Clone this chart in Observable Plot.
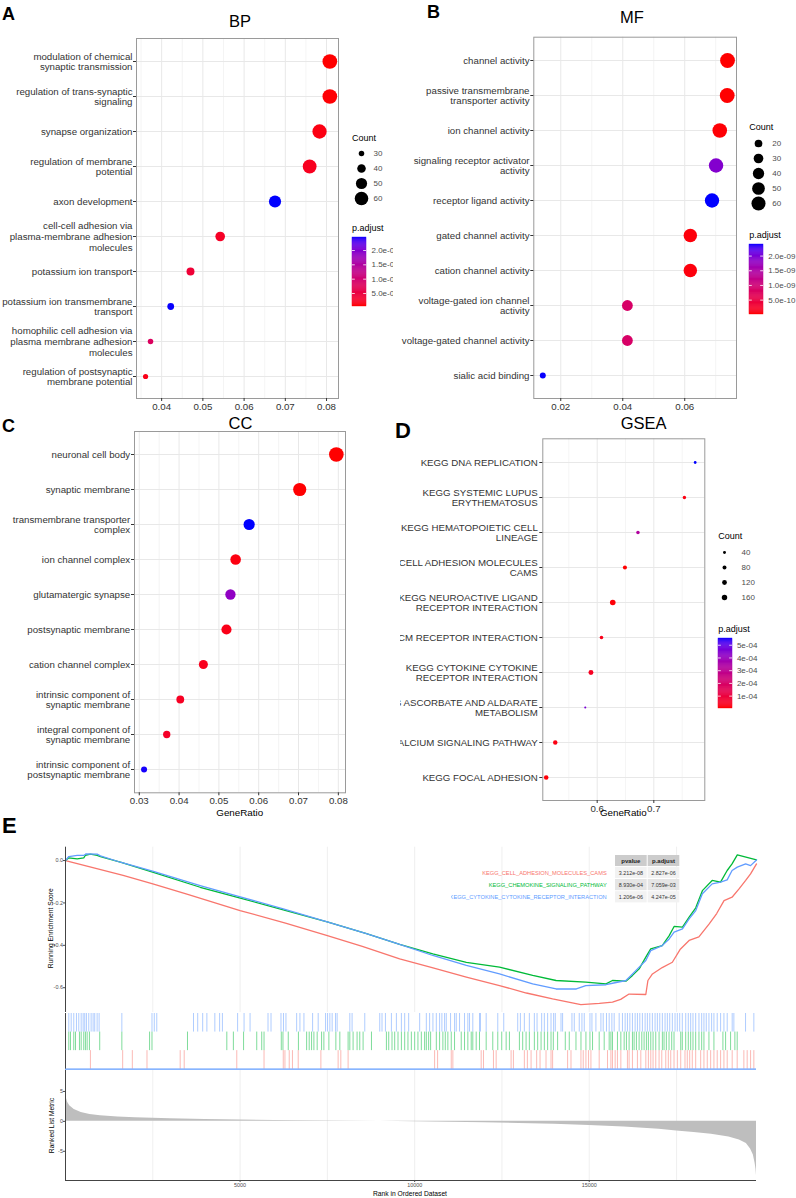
<!DOCTYPE html>
<html><head><meta charset="utf-8">
<script src="https://cdn.jsdelivr.net/npm/d3@7"></script>
<script src="https://cdn.jsdelivr.net/npm/@observablehq/plot@0.6"></script>
<style>
html,body{margin:0;padding:0;background:#fff;}
#page{position:relative;width:796px;height:1198px;overflow:hidden;background:#fff;font-family:"Liberation Sans",Arial,Helvetica,sans-serif;}
.panel{position:absolute;overflow:hidden;}
</style></head><body><div id="page"></div>
<script>
// ---------------- DATA ----------------
const bpTerms = ["modulation of chemical\nsynaptic transmission","regulation of trans-synaptic\nsignaling","synapse organization","regulation of membrane\npotential","axon development","cell-cell adhesion via\nplasma-membrane adhesion\nmolecules","potassium ion transport","potassium ion transmembrane\ntransport","homophilic cell adhesion via\nplasma membrane adhesion\nmolecules","regulation of postsynaptic\nmembrane potential"];
const bpRatio = [0.0808,0.0808,0.0783,0.0759,0.0675,0.0542,0.0470,0.0422,0.0373,0.0361];
const bpCount = [65,65,63,61,54,44,38,34,30,29];
const bpPadj = [4.5e-8,6e-8,1.2e-7,2e-7,2.455e-6,2.5e-7,4e-7,2.45e-6,8e-7,1.5e-7];
const bpTicks = [0.04,0.05,0.06,0.07,0.08];
const bpCountLegend = [30,40,50,60];
const bpColorTicks = [5e-7,1e-6,1.5e-6,2e-6];

const mfTerms = ["channel activity","passive transmembrane\ntransporter activity","ion channel activity","signaling receptor activator\nactivity","receptor ligand activity","gated channel activity","cation channel activity","voltage-gated ion channel\nactivity","voltage-gated channel activity","sialic acid binding"];
const mfRatio = [0.0738,0.0737,0.0713,0.0701,0.0688,0.0618,0.0618,0.0415,0.0415,0.0142];
const mfCount = [66,66,64,63,62,55,55,37,37,13];
const mfPadj = [1e-11,1.5e-11,3e-11,1.92e-9,2.395e-9,5e-11,6e-11,8.4e-10,8.4e-10,2.39e-9];
const mfTicks = [0.02,0.04,0.06];
const mfCountLegend = [20,30,40,50,60];
const mfColorTicks = [5e-10,1e-9,1.5e-9,2e-9];

const ccTerms = ["neuronal cell body","synaptic membrane","transmembrane transporter\ncomplex","ion channel complex","glutamatergic synapse","postsynaptic membrane","cation channel complex","intrinsic component of\nsynaptic membrane","integral component of\nsynaptic membrane","intrinsic component of\npostsynaptic membrane"];
const ccRatio = [0.0795,0.0703,0.0576,0.0542,0.0529,0.0519,0.0461,0.0403,0.0369,0.0312];
const ccCount = [66,58,48,45,44,43,38,33,31,26];
const ccPadj = [2e-7,3e-7,3.0e-5,1e-6,2.26e-5,1.5e-6,2e-6,2.5e-6,3e-6,2.98e-5];
const ccTicks = [0.03,0.04,0.05,0.06,0.07,0.08];

const gsTerms = ["KEGG DNA REPLICATION","KEGG SYSTEMIC LUPUS\nERYTHEMATOSUS","KEGG HEMATOPOIETIC CELL\nLINEAGE","KEGG CELL ADHESION MOLECULES\nCAMS","KEGG NEUROACTIVE LIGAND\nRECEPTOR INTERACTION","KEGG ECM RECEPTOR INTERACTION","KEGG CYTOKINE CYTOKINE\nRECEPTOR INTERACTION","KEGG ASCORBATE AND ALDARATE\nMETABOLISM","KEGG CALCIUM SIGNALING PATHWAY","KEGG FOCAL ADHESION"];
const gsRatio = [0.773,0.754,0.672,0.649,0.6275,0.6076,0.589,0.579,0.526,0.510];
const gsCount = [35,55,60,85,170,65,130,18,105,110];
const gsPadj = [5.53e-4,2e-5,3.3e-4,2.827e-6,1e-5,3e-5,4.247e-5,4.6e-4,2e-5,1e-5];
const gsTicks = [0.6,0.7];
const gsCountLegend = [40,80,120,160];
const gsColorTicks = [1e-4,2e-4,3e-4,4e-4,5e-4];

// GSEA running enrichment score (rank, ES)
const esCams = [[0,0],[700,-0.03],[1650,-0.07],[2500,-0.11],[3500,-0.16],[5000,-0.236],[6300,-0.295],[7500,-0.354],[8500,-0.405],[9570,-0.464],[10500,-0.505],[11480,-0.55],[12430,-0.59],[13200,-0.625],[13950,-0.653],[14760,-0.68],[15290,-0.674],[15665,-0.668],[15900,-0.655],[16140,-0.63],[16620,-0.632],[16680,-0.566],[16810,-0.535],[17090,-0.505],[17380,-0.48],[17600,-0.42],[17860,-0.377],[18140,-0.36],[18430,-0.3],[18650,-0.25],[18860,-0.189],[19090,-0.173],[19290,-0.134],[19480,-0.094],[19620,-0.063],[19790,-0.016]];
const esChemokine = [[0,0],[94,0.013],[334,0.008],[523,0.013],[571,0.025],[714,0.03],[906,0.024],[1000,0.019],[1571,-0.008],[2494,-0.055],[3857,-0.126],[4980,-0.176],[6237,-0.233],[7520,-0.29],[8620,-0.345],[9570,-0.396],[10520,-0.44],[11480,-0.48],[12430,-0.503],[13380,-0.542],[14050,-0.566],[14900,-0.574],[15480,-0.582],[15665,-0.566],[16050,-0.569],[16240,-0.542],[16430,-0.511],[16620,-0.456],[16760,-0.417],[17090,-0.401],[17290,-0.354],[17430,-0.311],[17670,-0.314],[17860,-0.267],[18050,-0.223],[18240,-0.142],[18520,-0.094],[18760,-0.102],[18950,-0.047],[19090,-0.016],[19240,0.027],[19790,0.003]];
const esCytokine = [[0,0],[94,0.019],[334,0.024],[523,0.024],[580,0.031],[906,0.03],[1000,0.022],[1571,-0.008],[2494,-0.05],[3857,-0.118],[4980,-0.17],[6237,-0.228],[7520,-0.29],[8620,-0.345],[9570,-0.396],[10520,-0.448],[11480,-0.495],[12430,-0.535],[13380,-0.582],[14050,-0.606],[14630,-0.606],[14900,-0.59],[15480,-0.586],[15665,-0.579],[16050,-0.566],[16240,-0.535],[16430,-0.503],[16620,-0.472],[16760,-0.425],[17090,-0.401],[17290,-0.37],[17430,-0.338],[17670,-0.322],[17860,-0.275],[18050,-0.236],[18240,-0.157],[18520,-0.11],[18760,-0.102],[18950,-0.091],[19090,-0.047],[19240,-0.031],[19480,-0.016],[19620,-0.024],[19790,0.003]];

// gene hit positions (rank)
const hitsCams = [714,1637,1914,2334,3285,3400,4905,5686,6237,6285,6408,6500,6665,7314,7808,7885,8094,10571,10657,11048,11094,11905,11971,12257,12334,12762,12828,13142,13228,13334,13494,13591,13762,13905,13951,14380,14477,14762,14828,14905,14980,15048,15285,15523,15620,15665,15742,15808,15905,16094,16142,16237,16380,16477,16620,16694,16762,16828,16905,17000,17077,17191,17265,17334,17428,17523,17620,17742,17808,17877,17951,18048,18191,18285,18380,18477,18571,18665,18762,18857,18951,19094,19237,19428,19523,19620,19714];
const hitsChemokine = [94,143,237,286,400,449,523,571,620,686,980,1614,2408,2477,3494,4620,4808,5100,5477,5620,5686,6180,6228,6380,6671,6906,6980,7048,7114,7208,7334,7400,7543,7743,7857,8094,8143,8237,8351,8428,8523,8763,9191,9257,9351,9428,9523,9620,9714,9808,9905,10000,10094,10191,10285,10334,10400,10457,10620,10714,10808,10877,10951,11048,11142,11334,11428,11523,11620,11665,11762,11857,12048,12237,12380,12494,12620,12714,13000,13094,13191,13285,13428,13523,13620,13714,13808,13905,13971,14094,14314,14428,14620,14763,14905,15020,15094,15285,15428,15571,15620,15665,15808,15905,16000,16065,16142,16237,16285,16351,16428,16505,16571,16637,16694,16762,16828,16905,17000,17094,17142,17208,17285,17362,17428,17620,17665,17762,17837,17905,17971,18048,18142,18220,18285,18428,18571,18828,18905,19048,19171,19237];
const hitsCytokine = [94,163,237,314,380,449,506,551,600,666,734,791,837,906,963,1614,2477,2543,2614,3666,3786,3929,4049,4277,4414,4494,4929,5114,5286,5800,5886,6171,6243,6314,6620,6714,6829,7077,7237,7448,7505,7571,7637,7734,7780,8143,8208,8571,9000,9065,9163,9334,9477,9620,9714,9828,10143,10334,10428,10523,10620,10714,10780,10857,10905,11028,11143,11191,11285,11428,11523,11571,11665,11857,11885,12048,12380,12551,12951,13028,13142,13285,13428,13505,13637,13714,13808,13905,13980,14028,14191,14237,14505,14571,14714,14791,14857,15020,15077,15191,15334,15400,15494,15571,15648,15714,15857,15951,16028,16094,16163,16237,16314,16380,16448,16522,16600,16665,16734,16808,16885,16951,17020,17094,17171,17237,17305,17380,17457,17522,17591,17665,17763,17837,17905,17971,18048,18142,18220,18285,18351,18428,18505,18571,18665,18762,18857,18951,19094,19142,19476,19714];

// ranked list metric
const metricRank = [0,5,20,60,120,250,450,700,1000,1500,2000,3000,4000,5000,6000,7000,8000,9000,10000,11000,12000,13000,14000,15000,16000,17000,17500,18000,18500,19000,19300,19500,19620,19700,19750,19775,19790];
const metricValue = [7.6,5.0,4.0,3.2,2.6,2.0,1.5,1.15,0.95,0.75,0.62,0.45,0.33,0.24,0.16,0.1,0.05,0.0,-0.06,-0.13,-0.22,-0.35,-0.5,-0.7,-0.95,-1.3,-1.6,-1.85,-2.15,-2.6,-3.1,-3.7,-4.6,-5.6,-7.0,-8.0,-9.05];

const esTicks = [0,-0.2,-0.4,-0.6];
const metricTicks = [5,0,-5];
const rankTicks = [5000,10000,15000];
const rankGrid = [2500,5000,7500,10000,12500,15000,17500];

const tableSets = ["KEGG_CELL_ADHESION_MOLECULES_CAMS","KEGG_CHEMOKINE_SIGNALING_PATHWAY","KEGG_CYTOKINE_CYTOKINE_RECEPTOR_INTERACTION"];
const tableColors = ["#F8766D","#00BA38","#619CFF"];
const tablePvalue = ["3.212e-08","8.930e-04","1.206e-06"];
const tablePadjust = ["2.827e-06","7.059e-03","4.247e-05"];

// ---------------- HELPERS ----------------
const FONT = "'Liberation Sans', Arial, Helvetica, sans-serif";
const AXC = "#333333";
const page = document.getElementById("page");
const baseStyle = {background:"transparent", fontFamily:FONT, overflow:"visible"};
const colorOpts = dom => ({type:"linear", domain:dom, range:["red","blue"], interpolate:"lab"});
const fmtSci = digits => v => v.toExponential(digits).replace(/e([+-])(\d)$/, (m,s,d) => "e"+s+"0"+d);

function place(parent, node, left, top){
  node.style.position = "absolute"; node.style.left = left+"px"; node.style.top = top+"px";
  parent.appendChild(node); return node;
}
function panelDiv(left, top, w, h){
  const d = document.createElement("div"); d.className = "panel";
  Object.assign(d.style, {left:left+"px", top:top+"px", width:w+"px", height:h+"px"});
  page.appendChild(d); return d;
}

function dotPanel(o){
  const data = o.terms.map((t,i) => ({term:t, ratio:o.ratio[i], count:o.count[i], padj:o.padj[i]}));
  const step = o.xTicks[1]-o.xTicks[0];
  const minor = [o.xTicks[0]-step/2, ...o.xTicks.map(t => t+step/2)].filter(v => v>o.xDomain[0] && v<o.xDomain[1]);
  return Plot.plot({
    width:o.width, height:o.height, marginLeft:o.mL, marginTop:o.mT, marginRight:o.mR, marginBottom:o.mB,
    style:baseStyle,
    x:{domain:o.xDomain},
    y:{type:"point", domain:o.terms, padding:0.6},
    r:{type:"sqrt", domain:o.rDomain, range:o.rRange},
    color:colorOpts(d3.extent(o.padj)),
    marks:[
      Plot.gridX(minor, {stroke:"#efefef", strokeOpacity:1, strokeWidth:0.7}),
      Plot.gridX(o.xTicks, {stroke:"#e8e8e8", strokeOpacity:1, strokeWidth:1}),
      Plot.gridY(o.terms, {stroke:"#e8e8e8", strokeOpacity:1, strokeWidth:1}),
      Plot.dot(data, {x:"ratio", y:"term", r:"count", fill:"padj"}),
      Plot.frame({stroke:"#9a9a9a", strokeWidth:1}),
      Plot.axisY({tickSize:3, tickPadding:o.yPad, fontSize:9.7, lineHeight:1.1, color:AXC, label:null}),
      Plot.axisX(o.xTicks, {tickSize:3, tickPadding:o.xPad, fontSize:9.7, color:AXC, label:null})
    ]
  });
}

function sizeLegend(o){
  return Plot.plot({
    width:60, height:o.values.length*o.stepH, marginLeft:0, marginRight:40, marginTop:0, marginBottom:0,
    style:baseStyle,
    x:{domain:[0,1], axis:null},
    y:{type:"point", domain:o.values, padding:0.5},
    r:{type:"sqrt", domain:o.rDomain, range:o.rRange},
    marks:[
      Plot.dot(o.values, {x:0.5, y:d => d, r:d => d, fill:"black"}),
      Plot.axisY(o.values, {anchor:"right", tickSize:0, tickPadding:o.labelPad, fontSize:8, color:"#4d4d4d", label:null})
    ]
  });
}

function colorbar(o){
  const n = 64, dom = o.domain;
  const steps = d3.range(n).map(i => ({lo:dom[0]+(dom[1]-dom[0])*i/n, hi:dom[0]+(dom[1]-dom[0])*(i+1)/n}));
  return Plot.plot({
    width:o.barW+45, height:o.barH, marginLeft:0, marginRight:45, marginTop:0, marginBottom:0,
    style:baseStyle,
    x:{domain:[0,1], axis:null},
    y:{domain:dom},
    color:colorOpts(dom),
    marks:[
      Plot.rect(steps, {x1:0, x2:1, y1:"lo", y2:"hi", fill:d => (d.lo+d.hi)/2, stroke:d => (d.lo+d.hi)/2, strokeWidth:0.4}),
      Plot.ruleY(o.ticks, {x1:0, x2:0.2, stroke:"white", strokeWidth:0.8}),
      Plot.ruleY(o.ticks, {x1:0.8, x2:1, stroke:"white", strokeWidth:0.8}),
      Plot.axisY(o.ticks, {anchor:"right", tickSize:0, tickPadding:o.labelPad, tickFormat:o.fmt, fontSize:8, color:"#4d4d4d", label:null})
    ]
  });
}

// ---------------- PANEL A (BP) ----------------
const rA = {d:[29,65], r:[2.6,7.35]};
const panA = panelDiv(0, 0, 393, 415);
place(panA, dotPanel({terms:bpTerms, ratio:bpRatio, count:bpCount, padj:bpPadj, xDomain:[0.0339,0.0829], xTicks:bpTicks,
  rDomain:rA.d, rRange:rA.r, width:393, height:415, mL:136, mT:38, mR:55, mB:17, yPad:1, xPad:2}), 0, 0);
place(panA, sizeLegend({values:bpCountLegend, rDomain:rA.d, rRange:rA.r, stepH:15, labelPad:2}), 351, 144.5);
place(panA, colorbar({domain:d3.extent(bpPadj), ticks:bpColorTicks, fmt:fmtSci(1), barW:14, barH:69, labelPad:5}), 352, 237);

// ---------------- PANEL B (MF) ----------------
const rB = {d:[13,66], r:[3,7.4]};
const panB = panelDiv(400, 0, 396, 415);
place(panB, dotPanel({terms:mfTerms, ratio:mfRatio, count:mfCount, padj:mfPadj, xDomain:[0.0113,0.0767], xTicks:mfTicks,
  rDomain:rB.d, rRange:rB.r, width:396, height:415, mL:133.3, mT:36.7, mR:60, mB:17, yPad:1.3, xPad:2}), 0, 0);
place(panB, sizeLegend({values:mfCountLegend, rDomain:rB.d, rRange:rB.r, stepH:15.6, labelPad:3.7}), 348.3, 133.5);
place(panB, colorbar({domain:d3.extent(mfPadj), ticks:mfColorTicks, fmt:fmtSci(1), barW:14, barH:70, labelPad:4.7}), 349, 243.7);

// ---------------- PANEL C (CC) ----------------
const panC = panelDiv(0, 415, 400, 403);
place(panC, dotPanel({terms:ccTerms, ratio:ccRatio, count:ccCount, padj:ccPadj, xDomain:[0.0288,0.0818], xTicks:ccTicks,
  rDomain:[26,66], rRange:[3,7.3], width:400, height:403, mL:134, mT:16, mR:55, mB:25.7, yPad:1.3, xPad:1.5}), 0, 0);

// ---------------- PANEL D (GSEA) ----------------
const rD = {d:[18,170], r:[1.05,2.8]};
const panD = panelDiv(400, 415, 396, 403);
place(panD, dotPanel({terms:gsTerms, ratio:gsRatio, count:gsCount, padj:gsPadj, xDomain:[0.504,0.790], xTicks:gsTicks,
  rDomain:rD.d, rRange:rD.r, width:396, height:403, mL:142.3, mT:23.3, mR:91.7, mB:18, yPad:2, xPad:2}), 0, 0);
place(panD, sizeLegend({values:gsCountLegend, rDomain:rD.d, rRange:rD.r, stepH:15.67, labelPad:7}), 314, 127.9);
place(panD, colorbar({domain:d3.extent(gsPadj), ticks:gsColorTicks, fmt:fmtSci(0), barW:14, barH:70, labelPad:4.4}), 318.3, 223.3);

// ---------------- PANEL E (GSEA plot) ----------------
const eX = [0, 19790];
const esY = [-0.717, 0.063];
const esPlot = Plot.plot({
  width:796, height:172, marginLeft:65, marginRight:40, marginTop:6.7, marginBottom:0,
  style:baseStyle,
  x:{domain:eX, axis:null}, y:{domain:esY},
  marks:[
    Plot.gridX(rankGrid, {stroke:"#ebebeb", strokeOpacity:1, strokeWidth:0.8}),
    Plot.line(esCams, {x:d => d[0], y:d => d[1], stroke:tableColors[0], strokeWidth:1.3}),
    Plot.line(esChemokine, {x:d => d[0], y:d => d[1], stroke:tableColors[1], strokeWidth:1.3}),
    Plot.line(esCytokine, {x:d => d[0], y:d => d[1], stroke:tableColors[2], strokeWidth:1.3}),
    Plot.ruleX([eX[0]], {stroke:"#444", strokeWidth:1}),
    Plot.axisY(esTicks, {tickSize:2, tickPadding:0.6, fontSize:5.4, tickFormat:d => d.toFixed(1), color:"#4d4d4d", label:null})
  ]
});
place(page, esPlot, 0, 840);

const rugPlot = Plot.plot({
  width:796, height:58, marginLeft:65, marginRight:40, marginTop:1, marginBottom:1.3,
  style:baseStyle,
  x:{domain:eX, axis:null}, y:{domain:[0,3], axis:null},
  marks:[
    Plot.ruleX(hitsCams, {x:d => d, y1:0, y2:1, stroke:tableColors[0], strokeOpacity:0.5, strokeWidth:1}),
    Plot.ruleX(hitsChemokine, {x:d => d, y1:1, y2:2, stroke:tableColors[1], strokeOpacity:0.5, strokeWidth:1}),
    Plot.ruleX(hitsCytokine, {x:d => d, y1:2, y2:3, stroke:tableColors[2], strokeOpacity:0.5, strokeWidth:1}),
    Plot.ruleY([0], {stroke:tableColors[2], strokeWidth:1.2}),
    Plot.ruleX([eX[0]], {stroke:"#444", strokeWidth:1})
  ]
});
place(page, rugPlot, 0, 1012);

const metric = metricRank.map((r,i) => ({rank:r, value:metricValue[i]}));
const mY = [-9.88, 8.5];
const rankPlot = Plot.plot({
  width:796, height:130, marginLeft:65, marginRight:40, marginTop:5, marginBottom:15,
  style:baseStyle,
  x:{domain:eX}, y:{domain:mY},
  marks:[
    Plot.gridX(rankGrid, {stroke:"#ebebeb", strokeOpacity:1, strokeWidth:0.8}),
    Plot.areaY(metric, {x:"rank", y:"value", fill:"#bebebe"}),
    Plot.ruleX([eX[0]], {stroke:"#444", strokeWidth:1}),
    Plot.ruleY([mY[0]], {stroke:"#444", strokeWidth:1}),
    Plot.axisY(metricTicks, {tickSize:2, tickPadding:0.6, fontSize:5.4, tickFormat:d => String(d), color:"#4d4d4d", label:null}),
    Plot.axisX(rankTicks, {tickSize:2, tickPadding:1, fontSize:5.4, tickFormat:d => String(d), color:"#4d4d4d", label:null})
  ]
});
place(page, rankPlot, 0, 1065);

// ---------------- TEXT OVERLAY ----------------
const svg = d3.select(page).append("svg").attr("width",796).attr("height",1198)
  .style("position","absolute").style("left","0px").style("top","0px").style("font-family",FONT);
function txt(s, x, y, o={}){
  const t = svg.append("text").attr("x",x).attr("y",y).text(s)
    .attr("font-size",o.size||10).attr("text-anchor",o.anchor||"start").attr("fill",o.fill||"#000");
  if (o.weight) t.attr("font-weight",o.weight);
  if (o.baseline) t.attr("dominant-baseline",o.baseline);
  if (o.rotate) t.attr("transform",`rotate(${o.rotate},${x},${y})`);
  return t;
}
// panel letters
txt("A", 2, 20, {size:18, weight:"bold"});
txt("B", 427, 18, {size:18, weight:"bold"});
txt("C", 2, 432, {size:18, weight:"bold"});
txt("D", 395, 438, {size:22, weight:"bold"});
txt("E", 2, 833, {size:22, weight:"bold"});
// titles
txt("BP", 240, 21, {size:16.5, anchor:"middle", baseline:"central"});
txt("MF", 632, 17.2, {size:16.5, anchor:"middle", baseline:"central"});
txt("CC", 240.5, 423, {size:16.5, anchor:"middle", baseline:"central"});
txt("GSEA", 643.7, 423.3, {size:16.5, anchor:"middle", baseline:"central"});
// legend titles
txt("Count", 352, 140.5, {size:9});
txt("p.adjust", 352, 230.5, {size:9});
txt("Count", 749.3, 129.7, {size:9});
txt("p.adjust", 749.3, 238.3, {size:9});
txt("Count", 718.3, 538.7, {size:9});
txt("p.adjust", 718.3, 632.3, {size:9});
// axis titles
txt("GeneRatio", 239.7, 815.5, {size:9.8, anchor:"middle"});
txt("GeneRatio", 623.3, 816, {size:9.8, anchor:"middle"});
txt("Running Enrichment Score", 51, 928.3, {size:6.7, anchor:"middle", baseline:"central", rotate:-90});
txt("Ranked List Metric", 51, 1125.5, {size:6.7, anchor:"middle", baseline:"central", rotate:-90});
txt("Rank in Ordered Dataset", 410, 1196, {size:6.7, anchor:"middle"});

// table
svg.append("clipPath").attr("id","tclip").append("rect").attr("x",451).attr("y",845).attr("width",300).attr("height",70);
const tg = svg.append("g").attr("clip-path","url(#tclip)");
const cols = [{x:615, w:31.7}, {x:647.7, w:31.6}];
const headers = ["pvalue","p.adjust"];
headers.forEach((h,j) => {
  tg.append("rect").attr("x",cols[j].x).attr("y",855).attr("width",cols[j].w).attr("height",11).attr("fill","#cccccc");
  tg.append("text").attr("x",cols[j].x+cols[j].w/2).attr("y",860.5).attr("text-anchor","middle").attr("dominant-baseline","central")
    .attr("font-size",6).attr("font-weight","bold").attr("fill","#222").text(h);
});
tableSets.forEach((s,i) => {
  const y0 = 866.8 + i*12.2, cy = y0 + 5.8;
  const bg = i%2 ? "#e5e5e5" : "#f2f2f2";
  [tablePvalue[i], tablePadjust[i]].forEach((v,j) => {
    tg.append("rect").attr("x",cols[j].x).attr("y",y0).attr("width",cols[j].w).attr("height",11.2).attr("fill",bg);
    tg.append("text").attr("x",cols[j].x+cols[j].w/2).attr("y",cy).attr("text-anchor","middle").attr("dominant-baseline","central")
      .attr("font-size",5.4).attr("fill","#333").text(v);
  });
  tg.append("text").attr("x",606.7).attr("y",cy).attr("text-anchor","end").attr("dominant-baseline","central")
    .attr("font-size",5.7).attr("fill",tableColors[i]).text(s);
});
</script></body></html>
